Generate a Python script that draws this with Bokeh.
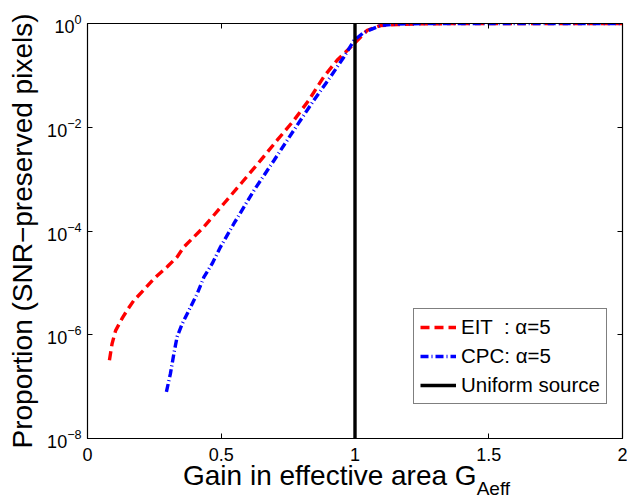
from bokeh.plotting import figure
from bokeh.models import (FixedTicker, LinearAxis, LogAxis, Legend, LegendItem,
                          Range1d, CustomJSTickFormatter, Div)
from bokeh.layouts import column
from bokeh.embed import file_html
from bokeh.resources import INLINE

# ---- data ----
eit_x = [0.082, 0.092, 0.105, 0.13, 0.148, 0.173, 0.21, 0.248, 0.298, 0.335, 0.36,
         0.435, 0.51, 0.578, 0.647, 0.709, 0.771, 0.827, 0.883, 0.933, 0.983,
         1.046, 1.095, 1.158, 1.25, 1.5, 1.75, 2.0]
eit_log = [-6.49, -6.17, -5.92, -5.68, -5.53, -5.34, -5.14, -4.92, -4.69, -4.50, -4.31,
           -3.92, -3.47, -3.06, -2.64, -2.25, -1.87, -1.48, -1.03, -0.71, -0.46,
           -0.13, -0.04, -0.02, -0.005, 0.0, 0.0, 0.0]
cpc_x = [0.295, 0.31, 0.323, 0.335, 0.354, 0.379, 0.41, 0.435, 0.466, 0.497, 0.547,
         0.622, 0.697, 0.771, 0.846, 0.908, 0.958, 0.996, 1.033, 1.095, 1.15,
         1.25, 1.5, 1.75, 2.0]
cpc_log = [-7.10, -6.75, -6.36, -6.04, -5.79, -5.53, -5.21, -4.89, -4.63, -4.31, -3.86,
           -3.22, -2.64, -2.06, -1.48, -1.03, -0.65, -0.33, -0.17, -0.04, -0.01,
           0.0, 0.0, 0.0, 0.0]
uni_x = [1.0, 1.0]
uni_y = [1e-8, 1.0]

eit_y = [10 ** v for v in eit_log]
cpc_y = [10 ** v for v in cpc_log]

x_ticks = [0, 0.5, 1, 1.5, 2]
y_ticks = [1e-8, 1e-6, 1e-4, 1e-2, 1]

FONT = "Liberation Sans"

p = figure(width=627, height=467, y_axis_type="log",
           x_range=Range1d(0, 2), y_range=Range1d(1e-8, 1),
           output_backend="svg", toolbar_location=None,
           min_border_left=87, min_border_right=5, min_border_top=23,
           min_border_bottom=29)
p.grid.visible = False
p.outline_line_color = "black"
p.outline_line_width = 1.2
p.background_fill_color = "white"
p.border_fill_color = "white"

r_eit = p.line(eit_x, eit_y, line_color="#ff0000", line_width=3.4, line_dash="9 5")
r_cpc = p.line(cpc_x, cpc_y, line_color="#0000ff", line_width=3.4, line_dash="8 3 1 3")
r_uni = p.line(uni_x, uni_y, line_color="black", line_width=3.4)

# main axes
xa = p.xaxis[0]
xa.ticker = FixedTicker(ticks=x_ticks, minor_ticks=[])
ya = p.yaxis[0]
ya.ticker = FixedTicker(ticks=y_ticks, minor_ticks=[])
for ax in (xa, ya):
    ax.major_tick_in = 5
    ax.major_tick_out = 0
    ax.minor_tick_in = 0
    ax.minor_tick_out = 0
    ax.axis_line_color = "black"
    ax.major_tick_line_color = "black"
    ax.major_label_text_font = FONT
    ax.major_label_text_font_size = "18px"
    ax.major_label_text_color = "black"
xa.major_label_standoff = 9
ya.major_label_standoff = 6
xa.axis_label = None
ya.axis_label = "Proportion (SNR\u2212preserved pixels)"
ya.axis_label_text_font = FONT
ya.axis_label_text_font_size = "28px"
ya.axis_label_text_font_style = "normal"
ya.axis_label_text_color = "black"
ya.axis_label_standoff = 6

# mirrored axes (ticks only, no labels)
top = LinearAxis(ticker=FixedTicker(ticks=x_ticks, minor_ticks=[]),
                 formatter=CustomJSTickFormatter(code="return ''"))
right = LogAxis(ticker=FixedTicker(ticks=y_ticks, minor_ticks=[]),
                formatter=CustomJSTickFormatter(code="return ''"))
for ax in (top, right):
    ax.major_tick_in = 5
    ax.major_tick_out = 0
    ax.minor_tick_in = 0
    ax.minor_tick_out = 0
    ax.major_label_standoff = 0
    ax.axis_line_color = "black"
p.add_layout(top, "above")
p.add_layout(right, "right")

legend = Legend(items=[LegendItem(label="EIT  : \u03b1=5", renderers=[r_eit]),
                       LegendItem(label="CPC: \u03b1=5", renderers=[r_cpc]),
                       LegendItem(label="Uniform source", renderers=[r_uni])],
                location=(326, 34))
legend.label_text_font = FONT
legend.label_text_font_size = "20.5px"
legend.label_text_color = "black"
legend.glyph_width = 36
legend.glyph_height = 24
legend.label_height = 24
legend.spacing = 5
legend.padding = 6
legend.margin = 0
legend.label_standoff = 5
legend.border_line_color = "black"
legend.border_line_width = 1
legend.background_fill_alpha = 1
p.add_layout(legend, "center")

# x-axis title with subscript, as HTML text below the plot
xlabel = Div(
    text=("<div style=\"font-family:'Liberation Sans',Arial,sans-serif;font-size:28px;"
          "line-height:17px;color:black;padding-left:183px;white-space:nowrap;\">"
          "Gain in effective area G<span style=\"font-size:19px;position:relative;"
          "top:10px;\">Aeff</span></div>"),
    width=627, height=32, margin=(0, 0, 0, 0))

layout = column(p, xlabel, spacing=0)
open("out.html", "w").write(file_html(layout, INLINE))
